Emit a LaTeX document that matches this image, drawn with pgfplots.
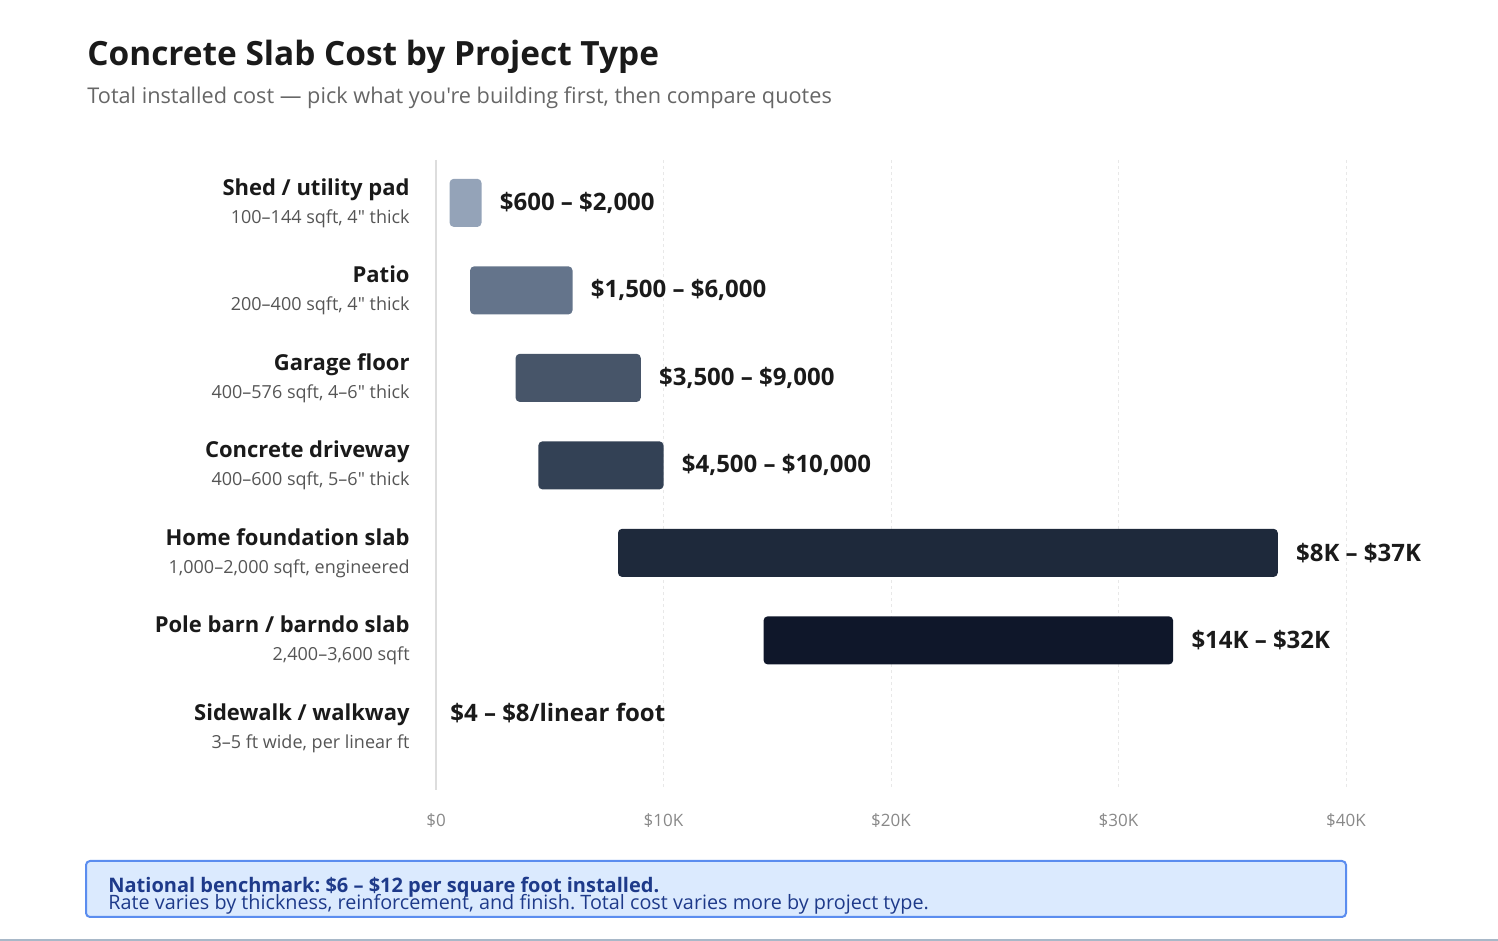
\documentclass[border=0pt]{standalone}
\usepackage{pgfplots}
\pgfplotsset{compat=1.18}
\usepackage{fontspec}
\setmainfont{Open Sans}[Ligatures=TeXOff]
\frenchspacing

\definecolor{ink}{HTML}{1A1A1A}
\definecolor{subgray}{HTML}{666666}
\definecolor{catsub}{HTML}{555555}
\definecolor{tickgray}{HTML}{888888}
\definecolor{gridgray}{HTML}{E8E8E8}
\definecolor{spine}{HTML}{DDDDDD}
\definecolor{cA}{HTML}{94A3B8}
\definecolor{cB}{HTML}{64748B}
\definecolor{cC}{HTML}{475569}
\definecolor{cD}{HTML}{334155}
\definecolor{cE}{HTML}{1E293B}
\definecolor{cF}{HTML}{0F172A}
\definecolor{boxfill}{HTML}{DBEAFE}
\definecolor{boxline}{HTML}{5B8DEF}
\definecolor{boxtext}{HTML}{1E3A8A}
\definecolor{rule}{HTML}{A8B8C8}

\protected\def\cat#1#2{{\bfseries\fontsize{11}{14}\selectfont\color{ink}#1}\\[2pt]{\fontsize{9}{12}\selectfont\color{catsub}#2}}
\tikzset{val/.style={anchor=west, inner sep=0pt, font=\bfseries\fontsize{12}{14}\selectfont, text=ink, xshift=9pt}}

\begin{document}
\begin{tikzpicture}
\useasboundingbox (0,0) rectangle (749pt,470.5pt);
\begin{axis}[
  at={(218pt,75.5pt)}, anchor=south west,
  scale only axis, width=455pt, height=315pt,
  xbar stacked, bar width=24pt,
  xmin=0, xmax=40000,
  ymin=-0.49, ymax=6.71, y dir=reverse,
  axis lines*=left,
  x axis line style={draw=none},
  y axis line style={draw=spine, line width=0.6pt},
  tick style={draw=none},
  scaled x ticks=false,
  xtick={0,10000,20000,30000,40000},
  xticklabels={\$0,\$10K,\$20K,\$30K,\$40K},
  xticklabel style={font=\fontsize{8.5}{10}\selectfont, text=tickgray, yshift=-8.5pt},
  xmajorgrids, grid style={gridgray, dash pattern=on 1.5pt off 1.5pt, line width=0.5pt},
  ytick={0,1,2,3,4,5,6},
  yticklabels={
    {\cat{Shed / utility pad}{100–144 sqft, 4" thick}},
    {\cat{Patio}{200–400 sqft, 4" thick}},
    {\cat{Garage floor}{400–576 sqft, 4–6" thick}},
    {\cat{Concrete driveway}{400–600 sqft, 5–6" thick}},
    {\cat{Home foundation slab}{1,000–2,000 sqft, engineered}},
    {\cat{Pole barn / barndo slab}{2,400–3,600 sqft}},
    {\cat{Sidewalk / walkway}{3–5 ft wide, per linear ft}}},
  yticklabel style={align=right, inner sep=0pt, xshift=-13pt},
  clip=false,
]
% invisible offsets: low end of each range
\addplot[draw=none, fill=none] coordinates {(600,0) (1500,1) (3500,2) (4500,3) (8000,4) (14400,5)};
% visible spans: high minus low
\addplot[draw=none, fill=cA, rounded corners=2pt] coordinates {(1400,0) (0,1) (0,2) (0,3) (0,4) (0,5)};
\addplot[draw=none, fill=cB, rounded corners=2pt] coordinates {(0,0) (4500,1) (0,2) (0,3) (0,4) (0,5)};
\addplot[draw=none, fill=cC, rounded corners=2pt] coordinates {(0,0) (0,1) (5500,2) (0,3) (0,4) (0,5)};
\addplot[draw=none, fill=cD, rounded corners=2pt] coordinates {(0,0) (0,1) (0,2) (5500,3) (0,4) (0,5)};
\addplot[draw=none, fill=cE, rounded corners=2pt] coordinates {(0,0) (0,1) (0,2) (0,3) (29000,4) (0,5)};
\addplot[draw=none, fill=cF, rounded corners=2pt] coordinates {(0,0) (0,1) (0,2) (0,3) (0,4) (18000,5)};

\node[val] at (axis cs:2000,0) {\$600 – \$2,000};
\node[val] at (axis cs:6000,1) {\$1,500 – \$6,000};
\node[val] at (axis cs:9000,2) {\$3,500 – \$9,000};
\node[val] at (axis cs:10000,3) {\$4,500 – \$10,000};
\node[val] at (axis cs:37000,4) {\$8K – \$37K};
\node[val] at (axis cs:32400,5) {\$14K – \$32K};
\node[val, xshift=-2pt, yshift=7.5pt] at (axis cs:0,6) {\$4 – \$8/linear foot};
\end{axis}

\begin{scope}[x=0.5pt, y=-0.5pt, yshift=470.5pt]
\node[anchor=base west, inner sep=0pt, font=\bfseries\fontsize{16.7}{20}\selectfont, text=ink] at (87,66) {Concrete Slab Cost by Project Type};
\node[anchor=base west, inner sep=0pt, font=\fontsize{10.85}{13}\selectfont, text=subgray] at (87,104) {Total installed cost — pick what you're building first, then compare quotes};
\draw[boxline, fill=boxfill, line width=1pt, rounded corners=2pt] (86,861) rectangle (1346,917);
\node[anchor=base west, inner sep=0pt, font=\bfseries\fontsize{10}{12}\selectfont, text=boxtext] at (108,893) {National benchmark: \$6 – \$12 per square foot installed.};
\node[anchor=base west, inner sep=0pt, font=\fontsize{9.9}{12}\selectfont, text=boxtext] at (108,910) {Rate varies by thickness, reinforcement, and finish. Total cost varies more by project type.};
\draw[rule, line width=1pt] (0,940) -- (1498,940);
\end{scope}
\end{tikzpicture}
\end{document}
